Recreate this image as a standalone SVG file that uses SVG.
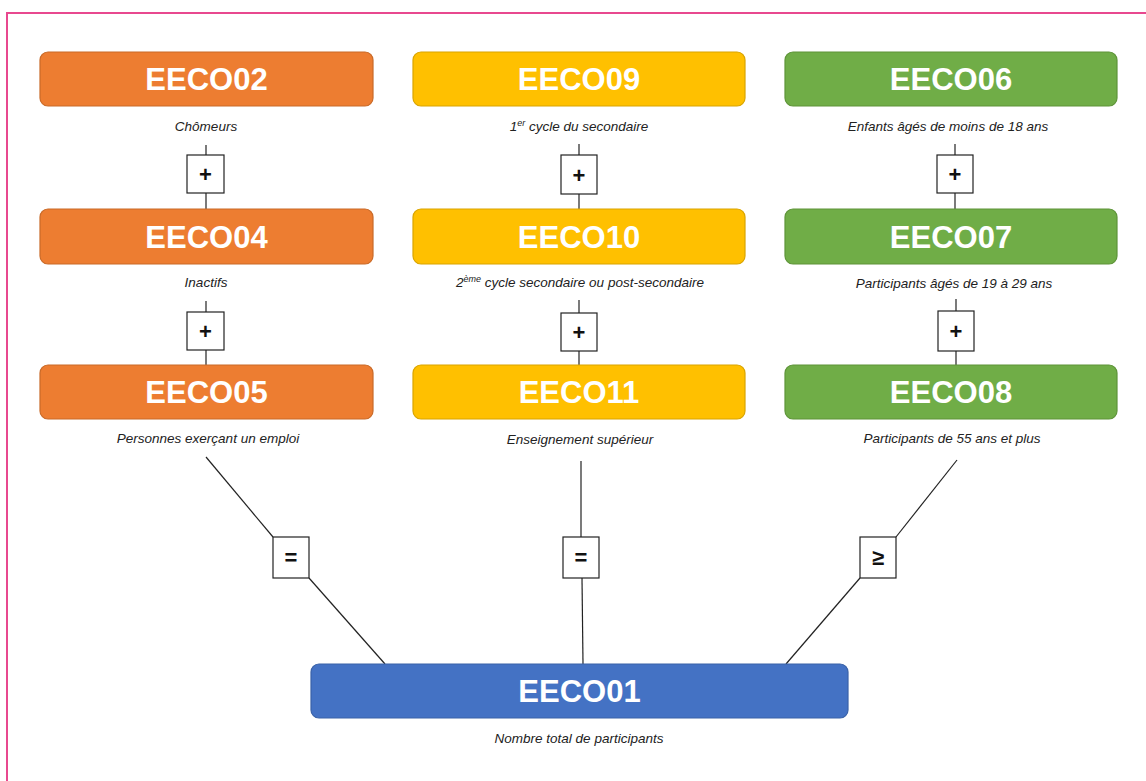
<svg xmlns="http://www.w3.org/2000/svg" width="1146" height="781" viewBox="0 0 1146 781">
<style>
.node{stroke-width:1.2}
.orange{fill:#ED7D31;stroke:#C96A28}
.yellow{fill:#FFC000;stroke:#D9A400}
.green{fill:#70AD47;stroke:#5E9439}
.blue{fill:#4472C4;stroke:#3A62A8}
.title{font-family:"Liberation Sans",Arial,sans-serif;font-weight:bold;font-size:31px;fill:#fff;text-anchor:middle}
.lbl{font-family:"Liberation Sans",Arial,sans-serif;font-style:italic;font-size:13.5px;fill:#222;text-anchor:middle}
.op{fill:#fff;stroke:#222;stroke-width:1.2}
.opt{font-family:"Liberation Sans",Arial,sans-serif;font-weight:bold;font-size:22px;fill:#111;text-anchor:middle}
.ln{stroke:#222;stroke-width:1.2;fill:none}
</style>
<rect x="0" y="0" width="1146" height="781" fill="#fff"/>
<rect x="7" y="13" width="1160" height="790" fill="none" stroke="#E8488F" stroke-width="2"/>

<g id="connectors">
  <line class="ln" x1="206" y1="145" x2="206" y2="155"/>
  <line class="ln" x1="206" y1="193" x2="206" y2="209"/>
  <line class="ln" x1="206" y1="301" x2="206" y2="312"/>
  <line class="ln" x1="206" y1="350" x2="206" y2="365"/>
  <line class="ln" x1="579" y1="144" x2="579" y2="155"/>
  <line class="ln" x1="579" y1="194" x2="579" y2="209"/>
  <line class="ln" x1="579" y1="300" x2="579" y2="313"/>
  <line class="ln" x1="579" y1="351" x2="579" y2="365"/>
  <line class="ln" x1="955" y1="144" x2="955" y2="155"/>
  <line class="ln" x1="955" y1="193" x2="955" y2="209"/>
  <line class="ln" x1="956" y1="299" x2="956" y2="311"/>
  <line class="ln" x1="956" y1="351" x2="956" y2="365"/>
  <line class="ln" x1="206" y1="457" x2="273" y2="537"/>
  <line class="ln" x1="309" y1="578" x2="385" y2="664"/>
  <line class="ln" x1="581" y1="461" x2="581" y2="537"/>
  <line class="ln" x1="582" y1="578" x2="583" y2="664"/>
  <line class="ln" x1="957" y1="460" x2="896" y2="537"/>
  <line class="ln" x1="860" y1="578" x2="786" y2="664"/>
</g>

<g id="op-plus-1"><rect class="op" x="187" y="155" width="37" height="38"/><text class="opt" x="205.5" y="182">+</text></g>
<g id="op-plus-2"><rect class="op" x="187" y="312" width="37" height="38"/><text class="opt" x="205.5" y="339">+</text></g>
<g id="op-plus-3"><rect class="op" x="561" y="155" width="36" height="39"/><text class="opt" x="579" y="182.5">+</text></g>
<g id="op-plus-4"><rect class="op" x="561" y="313" width="36" height="38"/><text class="opt" x="579" y="340">+</text></g>
<g id="op-plus-5"><rect class="op" x="937" y="155" width="36" height="38"/><text class="opt" x="955" y="182">+</text></g>
<g id="op-plus-6"><rect class="op" x="938" y="311" width="36" height="40"/><text class="opt" x="956" y="339">+</text></g>
<g id="op-eq-1"><rect class="op" x="273" y="537" width="36" height="41"/><text class="opt" x="291" y="565">=</text></g>
<g id="op-eq-2"><rect class="op" x="563" y="537" width="36" height="41"/><text class="opt" x="581" y="565">=</text></g>
<g id="op-ge"><rect class="op" x="860" y="537" width="36" height="41"/><text class="opt" x="878" y="565">≥</text></g>

<g id="EECO02"><rect class="node orange" x="40" y="52" width="333" height="54" rx="8"/><text class="title" x="206.5" y="90">EECO02</text><text class="lbl" x="206" y="131">Chômeurs</text></g>
<g id="EECO04"><rect class="node orange" x="40" y="209" width="333" height="55" rx="8"/><text class="title" x="206.5" y="247.5">EECO04</text><text class="lbl" x="206" y="287">Inactifs</text></g>
<g id="EECO05"><rect class="node orange" x="40" y="365" width="333" height="54" rx="8"/><text class="title" x="206.5" y="403">EECO05</text><text class="lbl" x="208" y="443">Personnes exerçant un emploi</text></g>

<g id="EECO09"><rect class="node yellow" x="413" y="52" width="332" height="54" rx="8"/><text class="title" x="579" y="90">EECO09</text><text class="lbl" x="579" y="131">1<tspan font-size="9" dy="-5">er</tspan><tspan dy="5"> cycle du secondaire</tspan></text></g>
<g id="EECO10"><rect class="node yellow" x="413" y="209" width="332" height="55" rx="8"/><text class="title" x="579" y="247.5">EECO10</text><text class="lbl" x="580" y="287">2<tspan font-size="9" dy="-5">ème</tspan><tspan dy="5"> cycle secondaire ou post-secondaire</tspan></text></g>
<g id="EECO11"><rect class="node yellow" x="413" y="365" width="332" height="54" rx="8"/><text class="title" x="579" y="403">EECO11</text><text class="lbl" x="580" y="444">Enseignement supérieur</text></g>

<g id="EECO06"><rect class="node green" x="785" y="52" width="332" height="54" rx="8"/><text class="title" x="951" y="90">EECO06</text><text class="lbl" x="948" y="131">Enfants âgés de moins de 18 ans</text></g>
<g id="EECO07"><rect class="node green" x="785" y="209" width="332" height="55" rx="8"/><text class="title" x="951" y="247.5">EECO07</text><text class="lbl" x="954" y="288">Participants âgés de 19 à 29 ans</text></g>
<g id="EECO08"><rect class="node green" x="785" y="365" width="332" height="54" rx="8"/><text class="title" x="951" y="403">EECO08</text><text class="lbl" x="952" y="443">Participants de 55 ans et plus</text></g>

<g id="EECO01"><rect class="node blue" x="311" y="664" width="537" height="54" rx="8"/><text class="title" x="579.5" y="702">EECO01</text><text class="lbl" x="579" y="743">Nombre total de participants</text></g>
</svg>
